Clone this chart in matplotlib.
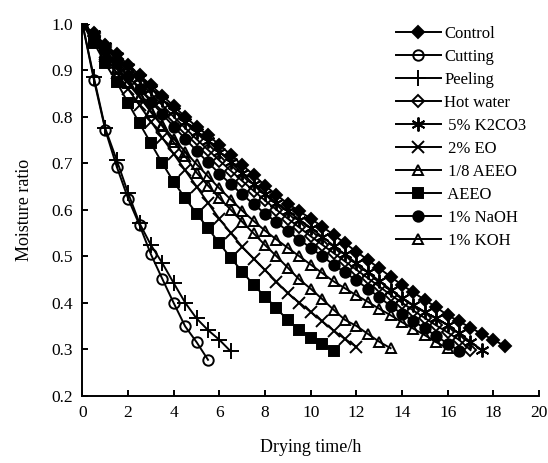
import matplotlib
matplotlib.use("Agg")
import matplotlib.pyplot as plt

plt.rcParams['font.family'] = ['Liberation Serif', 'DejaVu Serif']

# sampling times (h), every half hour
t_hours = [0, 0.5, 1, 1.5, 2, 2.5, 3, 3.5, 4, 4.5, 5, 5.5, 6, 6.5, 7, 7.5,
           8, 8.5, 9, 9.5, 10, 10.5, 11, 11.5, 12, 12.5, 13, 13.5, 14, 14.5,
           15, 15.5, 16, 16.5, 17, 17.5, 18, 18.5]

# moisture ratio
control = [1.0, 0.98, 0.955, 0.935, 0.912, 0.89, 0.868, 0.846, 0.823, 0.80,
           0.779, 0.76, 0.74, 0.718, 0.696, 0.675, 0.652, 0.632, 0.613, 0.597,
           0.581, 0.564, 0.546, 0.528, 0.51, 0.492, 0.474, 0.456, 0.438, 0.422,
           0.406, 0.39, 0.373, 0.36, 0.346, 0.333, 0.32, 0.307]
cutting = [1.0, 0.88, 0.772, 0.693, 0.624, 0.567, 0.504, 0.451, 0.399, 0.349,
           0.315, 0.277]
peeling = [1.0, 0.885, 0.775, 0.707, 0.636, 0.571, 0.524, 0.485, 0.442, 0.40,
           0.366, 0.341, 0.32, 0.295]
hot_water = [1.0, 0.975, 0.95, 0.925, 0.9, 0.875, 0.85, 0.825, 0.80, 0.776,
             0.752, 0.729, 0.706, 0.684, 0.662, 0.641, 0.62, 0.60, 0.581, 0.562,
             0.543, 0.525, 0.507, 0.489, 0.471, 0.453, 0.435, 0.417, 0.40, 0.383,
             0.367, 0.351, 0.336, 0.32, 0.298]
k2co3 = [1.0, 0.978, 0.953, 0.931, 0.907, 0.884, 0.861, 0.837, 0.813, 0.789,
         0.768, 0.748, 0.725, 0.702, 0.679, 0.655, 0.634, 0.615, 0.597, 0.579,
         0.561, 0.542, 0.523, 0.504, 0.485, 0.466, 0.447, 0.428, 0.41, 0.395,
         0.38, 0.366, 0.352, 0.334, 0.316, 0.298]
eo = [1.0, 0.965, 0.93, 0.895, 0.86, 0.825, 0.79, 0.755, 0.72, 0.685,
      0.65, 0.615, 0.58, 0.55, 0.52, 0.495, 0.47, 0.445, 0.42, 0.40,
      0.38, 0.36, 0.34, 0.322, 0.305]
aeeo_8 = [1.0, 0.97, 0.94, 0.905, 0.875, 0.845, 0.81, 0.78, 0.745, 0.715,
          0.68, 0.652, 0.625, 0.60, 0.574, 0.549, 0.524, 0.50, 0.475, 0.45,
          0.43, 0.408, 0.385, 0.363, 0.35, 0.333, 0.316, 0.302]
aeeo = [1.0, 0.96, 0.915, 0.875, 0.83, 0.786, 0.743, 0.70, 0.66, 0.625,
        0.592, 0.56, 0.528, 0.496, 0.467, 0.438, 0.413, 0.388, 0.362, 0.342,
        0.325, 0.31, 0.297]
naoh = [1.0, 0.972, 0.944, 0.915, 0.887, 0.86, 0.833, 0.806, 0.779, 0.753,
        0.727, 0.702, 0.678, 0.655, 0.633, 0.612, 0.592, 0.573, 0.554, 0.536,
        0.518, 0.50, 0.482, 0.465, 0.448, 0.43, 0.412, 0.393, 0.376, 0.36,
        0.345, 0.328, 0.312, 0.297]
koh = [1.0, 0.968, 0.936, 0.904, 0.872, 0.842, 0.812, 0.782, 0.753, 0.725,
       0.698, 0.672, 0.646, 0.622, 0.598, 0.576, 0.555, 0.536, 0.518, 0.50,
       0.482, 0.464, 0.446, 0.431, 0.416, 0.402, 0.387, 0.373, 0.358, 0.344,
       0.33, 0.315, 0.302]

labels = ["Control", "Cutting", "Peeling", "Hot water", " 5% K2CO3", " 2% EO",
          " 1/8 AEEO", " AEEO", " 1% NaOH", " 1% KOH"]
series = [control, cutting, peeling, hot_water, k2co3, eo, aeeo_8, aeeo, naoh, koh]

# marker, size, filled
styles = [("D", 6.5, True), ("o", 7.5, False), ("+", 11, False), ("D", 6.5, False),
          ((6, 2, 0), 10, False), ("x", 8.5, False), ("^", 7.5, False),
          ("s", 7.5, True), ("o", 7.5, True), ("^", 7.5, False)]

fig = plt.figure(figsize=(5.48, 4.63), dpi=100)
ax = fig.add_axes([0.1505, 0.1456, 0.833, 0.8026])

for vals, lab, (mk, ms, filled) in zip(series, labels, styles):
    ax.plot(t_hours[:len(vals)], vals, color="black", lw=1.4, marker=mk,
            ms=ms, mew=1.4, mfc="black" if filled else "none",
            mec="black", label=lab)

ax.set_xlim(0, 20)
ax.set_ylim(0.2, 1.0)
ax.set_xticks(range(0, 21, 2))
ax.set_yticks([0.2, 0.3, 0.4, 0.5, 0.6, 0.7, 0.8, 0.9, 1.0])
ax.set_yticklabels(["0.2", "0.3", "0.4", "0.5", "0.6", "0.7", "0.8", "0.9", "1.0"])
for s in ["top", "right"]:
    ax.spines[s].set_visible(False)
for s in ["left", "bottom"]:
    ax.spines[s].set_linewidth(1.4)
ax.tick_params(direction="in", length=4, width=1.4, labelsize=12.5, pad=7)

ax.set_xlabel("Drying time/h", fontsize=13, labelpad=13)
ax.set_ylabel("Moisture ratio", fontsize=13, labelpad=13)

ax.legend(loc="upper left", bbox_to_anchor=(0.672, 1.012), frameon=False,
          fontsize=12, handlelength=2.7, handletextpad=0.2, labelspacing=0.42,
          borderaxespad=0.0)

fig.savefig("out.png", dpi=100)
